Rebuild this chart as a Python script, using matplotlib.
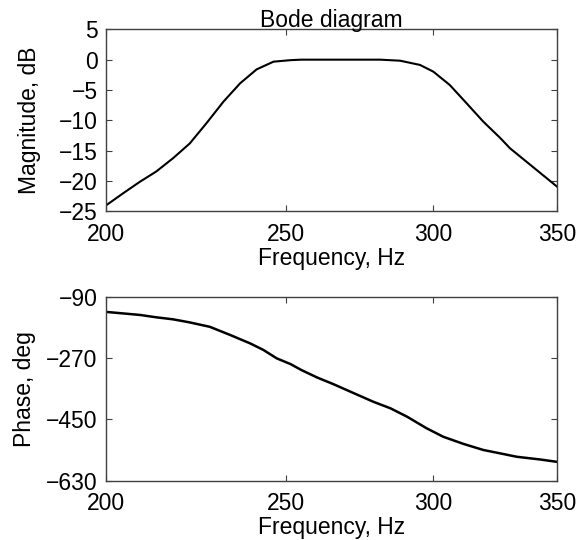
import matplotlib
matplotlib.use("Agg")
import matplotlib.pyplot as plt
from matplotlib.ticker import FixedLocator, FixedFormatter, NullLocator

plt.rcParams['font.family'] = ['Liberation Sans', 'DejaVu Sans']

# Magnitude response (Hz, dB)
mag_freq = [200.0, 204.3, 208.6, 212.9, 217.4, 221.9, 226.5, 231.4, 236.2, 241.1,
            246.2, 251.5, 254.8, 281.0, 288.1, 295.3, 300.2, 306.4, 312.9, 319.4,
            326.2, 330.2, 350.0]
mag_db = [-24.0, -22.0, -20.1, -18.4, -16.2, -13.8, -10.5, -6.9, -3.9, -1.6,
          -0.33, -0.08, 0.0, 0.0, -0.17, -0.87, -1.97, -4.17, -7.2, -10.2,
          -12.9, -14.6, -20.9]

# Phase response (Hz, deg)
ph_freq = [200.0, 208.6, 212.9, 217.4, 221.9, 227.5, 233.3, 239.2, 243.1, 247.2,
           251.5, 254.8, 259.8, 265.2, 270.8, 278.7, 284.6, 290.6, 297.7, 303.9,
           311.6, 319.4, 327.5, 332.9, 342.7, 350.0]
ph_deg = [-133, -142, -149, -155, -164, -177, -201, -226, -245, -270,
          -287, -304, -326, -346, -368, -398, -417, -442, -476, -501,
          -522, -540, -552, -560, -568, -575]

x_ticks = [200, 250, 300, 350]
mag_ticks = [5, 0, -5, -10, -15, -20, -25]
ph_ticks = [-90, -270, -450, -630]

fig = plt.figure(figsize=(5.76, 5.4), dpi=100)
W, H = 576, 540

def make_ax(left, top, right, bottom):
    return fig.add_axes([left / W, 1 - bottom / H, (right - left) / W, (bottom - top) / H])

ax1 = make_ax(106, 29.3, 557, 211.5)
ax2 = make_ax(106, 297.3, 557, 480.5)

FS = 16.5
frame_col = '#404040'

def style(ax, yticks, ylim):
    ax.set_xscale('log')
    ax.set_xlim(200, 350)
    ax.set_ylim(*ylim)
    ax.xaxis.set_major_locator(FixedLocator(x_ticks))
    ax.xaxis.set_major_formatter(FixedFormatter([str(t) for t in x_ticks]))
    ax.xaxis.set_minor_locator(NullLocator())
    ax.set_yticks(yticks)
    ax.set_yticklabels([str(t).replace('-', '\u2212') for t in yticks])
    ax.tick_params(direction='in', length=4, width=0.8, color=frame_col,
                   top=True, right=True, labelsize=FS)
    ax.tick_params(axis='x', pad=8)
    ax.tick_params(axis='y', pad=6)
    for s in ax.spines.values():
        s.set_color(frame_col)
        s.set_linewidth(1.0)
    ax.set_xlabel('Frequency, Hz', fontsize=FS, labelpad=1)

ax1.plot(mag_freq, mag_db, color='black', lw=1.5)
style(ax1, mag_ticks, (-25, 5))
ax1.set_ylabel('Magnitude, dB', fontsize=FS, labelpad=13)
ax1.set_title('Bode diagram', fontsize=FS, pad=2)

ax2.plot(ph_freq, ph_deg, color='black', lw=1.8)
style(ax2, ph_ticks, (-630, -90))
ax2.set_ylabel('Phase, deg', fontsize=FS, labelpad=7)

fig.savefig('out.png', dpi=100, facecolor='white')
